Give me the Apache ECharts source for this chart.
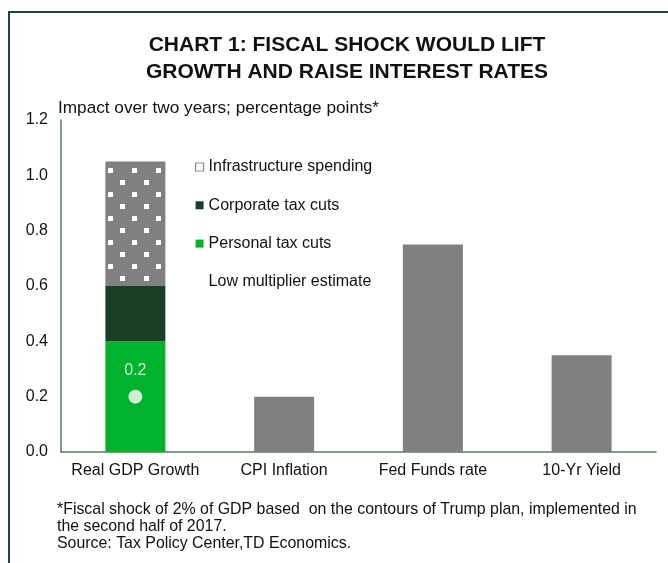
<!DOCTYPE html>
<html>
<head>
<meta charset="utf-8">
<script src="https://cdn.jsdelivr.net/npm/echarts@6/dist/echarts.min.js"></script>
<style>
  html, body { margin: 0; padding: 0; background: #fff; }
  #chart { width: 668px; height: 563px; }
</style>
</head>
<body>
<div id="chart"></div>
<script>
// categories and values
const categories = ['Real GDP Growth', 'CPI Inflation', 'Fed Funds rate', '10-Yr Yield'];
const personalTaxCuts = [0.4, '-', '-', '-'];
const corporateTaxCuts = [0.2, '-', '-', '-'];
const infrastructureSpending = [0.45, '-', '-', '-'];
const otherImpacts = ['-', 0.2, 0.75, 0.35];
const lowMultiplier = [0.2, '-', '-', '-'];
const yTicks = [0, 0.2, 0.4, 0.6, 0.8, 1.0, 1.2];

const font = '"Liberation Sans", Arial, sans-serif';
const frameColor = '#1f4a2b';
const axisColor = '#5f7a63';
const textColor = '#111';

let myChart = echarts.init(document.getElementById('chart'));

const option = {
    animation: false,
    textStyle: { fontFamily: font },
    graphic: [
        // frame: only top and left edges show inside the picture
        {
            type: 'rect',
            shape: { x: 9, y: 12, width: 720, height: 620 },
            style: { fill: 'none', stroke: frameColor, lineWidth: 2 },
            silent: true
        },
        {
            type: 'text',
            x: 347,
            y: 32,
            style: {
                text: 'CHART 1: FISCAL SHOCK WOULD LIFT\nGROWTH AND RAISE INTEREST RATES',
                fontSize: 21,
                fontWeight: 'bold',
                fontFamily: font,
                lineHeight: 27,
                fill: textColor,
                align: 'center',
                verticalAlign: 'top'
            }
        },
        {
            type: 'text',
            x: 58,
            y: 108,
            style: {
                text: 'Impact over two years; percentage points*',
                fontSize: 17.2,
                fontFamily: font,
                fill: textColor,
                align: 'left',
                verticalAlign: 'middle'
            }
        },
        {
            type: 'text',
            x: 57,
            y: 501,
            style: {
                text: '*Fiscal shock of 2% of GDP based  on the contours of Trump plan, implemented in\nthe second half of 2017.\nSource: Tax Policy Center,TD Economics.',
                fontSize: 15.9,
                fontFamily: font,
                lineHeight: 17,
                fill: textColor,
                align: 'left',
                verticalAlign: 'top'
            }
        }
    ],
    legend: {
        orient: 'vertical',
        left: 190,
        top: 154,
        itemWidth: 8,
        itemHeight: 8,
        itemGap: 22.3,
        icon: 'rect',
        data: [
            { name: 'Infrastructure spending', itemStyle: { color: '#ffffff', borderColor: '#8a8a8a', borderWidth: 1.2, decal: 'none' } },
            'Corporate tax cuts',
            'Personal tax cuts',
            'Low multiplier estimate'
        ],
        textStyle: { fontSize: 16, lineHeight: 16, color: textColor, fontFamily: font }
    },
    grid: { left: 61, right: 12, top: 120, bottom: 111 },
    xAxis: {
        type: 'category',
        data: categories,
        axisLine: { lineStyle: { color: axisColor, width: 1.5 } },
        axisTick: { show: false },
        axisLabel: { interval: 0, fontSize: 16, color: textColor, margin: 11, fontFamily: font }
    },
    yAxis: {
        type: 'value',
        min: yTicks[0],
        max: yTicks[yTicks.length - 1],
        interval: 0.2,
        splitLine: { show: false },
        axisLine: { show: true, lineStyle: { color: axisColor, width: 1.5 } },
        axisTick: { show: false },
        axisLabel: {
            fontSize: 16, color: textColor, margin: 13, fontFamily: font,
            formatter: v => v.toFixed(1)
        }
    },
    series: [
        {
            name: 'Personal tax cuts',
            type: 'bar',
            stack: 'total',
            barWidth: 60,
            data: personalTaxCuts,
            itemStyle: { color: '#00b22c' }
        },
        {
            name: 'Corporate tax cuts',
            type: 'bar',
            stack: 'total',
            data: corporateTaxCuts,
            itemStyle: { color: '#1a3f24' }
        },
        {
            name: 'Infrastructure spending',
            type: 'bar',
            stack: 'total',
            data: infrastructureSpending,
            itemStyle: {
                color: '#808080',
                decal: {
                    symbol: 'rect',
                    symbolSize: 1,
                    color: '#ffffff',
                    dashArrayX: [[5, 19], [0, 12, 5, 7]],
                    dashArrayY: [5, 7],
                    rotation: 0
                }
            }
        },
        {
            name: 'Impact',
            type: 'bar',
            stack: 'total',
            data: otherImpacts,
            itemStyle: { color: '#808080' }
        },
        {
            name: 'Low multiplier estimate',
            type: 'scatter',
            data: lowMultiplier,
            symbol: 'circle',
            symbolSize: 14,
            itemStyle: { color: '#ffffff' },
            label: {
                show: true,
                position: 'top',
                distance: 11,
                color: '#ffffff',
                fontSize: 16,
                fontFamily: font,
                formatter: p => p.value.toFixed(1)
            },
            z: 5
        }
    ]
};

myChart.setOption(option);
</script>
</body>
</html>
